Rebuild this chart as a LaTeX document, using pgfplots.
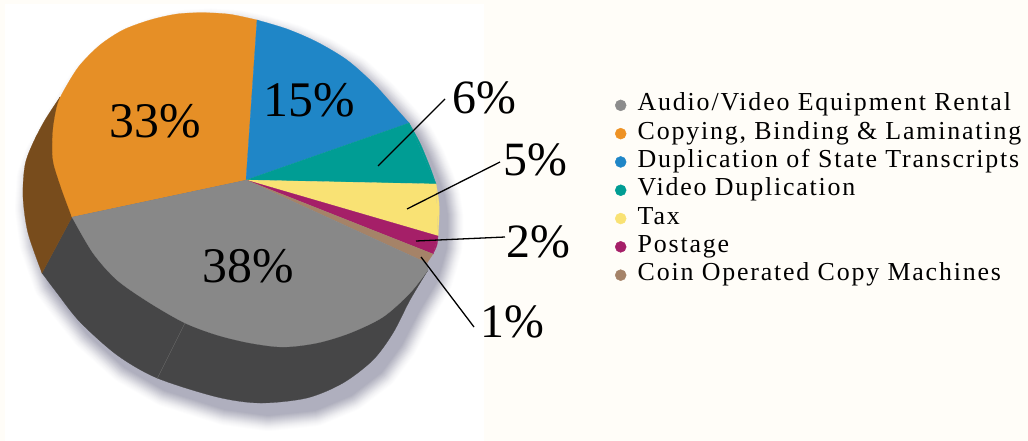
\documentclass[border=0pt]{standalone}
\usepackage{pgfplots}
\pgfplotsset{compat=1.18}
\usepackage{pgfplotstable}
\usepackage{fontspec}
\setmainfont{Liberation Serif}
\newfontfamily\legendfont[LetterSpace=7]{Liberation Serif}

\definecolor{page}{HTML}{FFFDF8}
\definecolor{cgray}{HTML}{888888}
\definecolor{corange}{HTML}{E68F26}
\definecolor{cblue}{HTML}{1F86C7}
\definecolor{cteal}{HTML}{009D94}
\definecolor{cyellow}{HTML}{F9E274}
\definecolor{cpurple}{HTML}{A51F68}
\definecolor{ccoin}{HTML}{A58368}
\definecolor{sidedark}{HTML}{464647}
\definecolor{sidebrown}{HTML}{784C1C}
\definecolor{shade}{HTML}{6E6E88}
\definecolor{dotorange}{HTML}{EE9224}
\definecolor{dotgray}{HTML}{8C8C8C}

% outline of the whole pie, for the shadow (picture pixels)
\pgfplotstableread{
x y
60 97
67 85
80 65
100 45
123 30
150 20
177 14
203 12.7
230 14.3
257 20
287 29
317 42
347 60
373 83
393 105
409 123
420 143
430 167
436 184
439 203
439 220
438 236
433 254
428 270
410 300
393 333
373 360
343 383
307 398
260 403
217 397
157 378
117 355
80 322
57 293
42 273
28 233
23 197
25 165
33 143
60 97
}\silhouette

% one slice: rounded outer arc, then the polygon back to the centre
\newcommand{\arcfill}[2]{\addplot[fill=#1,draw=#1,line width=0.2pt,smooth,forget plot] coordinates {#2};}
\newcommand{\polyfill}[2]{\addplot[fill=#1,draw=#1,line width=0.2pt,forget plot] coordinates {#2};}
\newcommand{\callout}[1]{\addplot[black,line width=1.3pt,forget plot] coordinates {#1};}
% one step of the soft shadow: stroke width, strength
\newcommand{\shadowstep}[2]{\addplot[fill=shade!#2!white,draw=shade!#2!white,line width=#1bp,line join=round,
     xshift=8bp,yshift=-12bp,forget plot] table {\silhouette};}

\begin{document}
\begin{tikzpicture}
\begin{axis}[
    scale only axis,
    width=1028bp,
    height=441bp,
    xmin=0, xmax=1028,
    ymin=0, ymax=441,
    y dir=reverse,
    axis lines=none,
    legend cell align=left,
    legend style={at={(axis cs:615,91)}, anchor=north west, draw=none, fill=none, overlay,
        font=\legendfont\fontsize{26}{26}\selectfont, inner sep=0pt, row sep=0pt,
        nodes={text height=17bp, text depth=6bp, inner ysep=2.65bp, inner xsep=11.5bp}},
]
% page and the white panel
\addplot[fill=page,draw=none,forget plot] coordinates {(0,0) (1028,0) (1028,441) (0,441)};
\addplot[fill=white,draw=none,forget plot] coordinates {(5,4) (484,4) (484,441) (5,441)};

% soft shadow
\shadowstep{32}{2}
\shadowstep{30}{4}
\shadowstep{28}{6}
\shadowstep{26}{9}
\shadowstep{24}{12}
\shadowstep{22}{15}
\shadowstep{20}{19}
\shadowstep{18}{23}
\shadowstep{16}{27}
\shadowstep{14}{31}
\shadowstep{12}{35}
\shadowstep{10}{39}
\shadowstep{8}{43}
\shadowstep{6}{47}
\shadowstep{4}{51}
\shadowstep{2}{55}

% sides
\arcfill{sidedark}{(428,270) (410,300) (393,333) (373,360) (343,383) (307,398) (260,403) (217,397) (157,378) (117,355) (80,322) (57,293) (42,273)}
\polyfill{sidedark}{(428,270) (393,320) (307,380) (157,360) (80,310) (42,273) (72,217) (246,180)}
\arcfill{sidebrown}{(60,97) (45,120) (33,143) (25,165) (23,197) (28,233) (42,273)}
\polyfill{sidebrown}{(60,97) (40,140) (32,197) (42,273) (72,217) (100,150)}
\addplot[color=cgray!80!black,line width=0.3pt,forget plot] coordinates {(185,323) (157,379)};

% top of the pie
\arcfill{corange}{(72,217) (62,190) (54,165) (52.3,150) (53.3,127) (58,103) (67,85) (80,65) (100,45) (123,30) (150,20) (177,14) (203,12.7) (230,14.3) (257,20)}
\polyfill{corange}{(246,180) (72,217) (60,150) (100,60) (257,20)}
\arcfill{cblue}{(257,20) (287,29) (317,42) (347,60) (373,83) (393,105) (409,123)}
\polyfill{cblue}{(246,180) (257,20) (340,60) (409,123)}
\arcfill{cteal}{(409,123) (420,143) (430,167) (436,184)}
\polyfill{cteal}{(246,180) (409,123) (436,184)}
\arcfill{cyellow}{(436,184) (439,203) (439,220) (438,236)}
\polyfill{cyellow}{(246,180) (436,184) (438,236)}
\arcfill{cpurple}{(438,236) (437,245) (433,254)}
\polyfill{cpurple}{(246,180) (438,236) (433,254)}
\polyfill{ccoin}{(246,180) (433,254) (427,263)}
\arcfill{cgray}{(428,270) (410,293) (383,317) (350,333) (317,343) (283,347) (250,343) (217,335) (185,323) (150,303) (117,280) (93,253) (72,217)}
\polyfill{cgray}{(246,180) (427,263) (428,270) (383,305) (283,335) (185,310) (117,270) (72,217)}

% leader lines
\callout{(445,99) (378,166)}
\callout{(500,162) (407,209)}
\callout{(505,237) (416,241)}
\callout{(474,327) (421,257)}

% percent labels
\node[font=\fontsize{50}{50}\selectfont] at (axis cs:155,121) {33\%};
\node[font=\fontsize{50}{50}\selectfont] at (axis cs:309,100) {15\%};
\node[font=\fontsize{50}{50}\selectfont] at (axis cs:248,266) {38\%};
\node[font=\fontsize{48}{48}\selectfont] at (axis cs:484.5,98) {6\%};
\node[font=\fontsize{48}{48}\selectfont] at (axis cs:535,160) {5\%};
\node[font=\fontsize{48}{48}\selectfont] at (axis cs:538,242) {2\%};
\node[font=\fontsize{48}{48}\selectfont] at (axis cs:512,322) {1\%};

% legend
\addlegendimage{only marks,mark=*,mark size=5.5bp,color=dotgray}
\addlegendentry{Audio/Video Equipment Rental}
\addlegendimage{only marks,mark=*,mark size=5.5bp,color=dotorange}
\addlegendentry{Copying, Binding \& Laminating}
\addlegendimage{only marks,mark=*,mark size=5.5bp,color=cblue}
\addlegendentry{Duplication of State Transcripts}
\addlegendimage{only marks,mark=*,mark size=5.5bp,color=cteal}
\addlegendentry{Video Duplication}
\addlegendimage{only marks,mark=*,mark size=5.5bp,color=cyellow}
\addlegendentry{Tax}
\addlegendimage{only marks,mark=*,mark size=5.5bp,color=cpurple}
\addlegendentry{Postage}
\addlegendimage{only marks,mark=*,mark size=5.5bp,color=ccoin}
\addlegendentry{Coin Operated Copy Machines}
\end{axis}
\end{tikzpicture}
\end{document}
